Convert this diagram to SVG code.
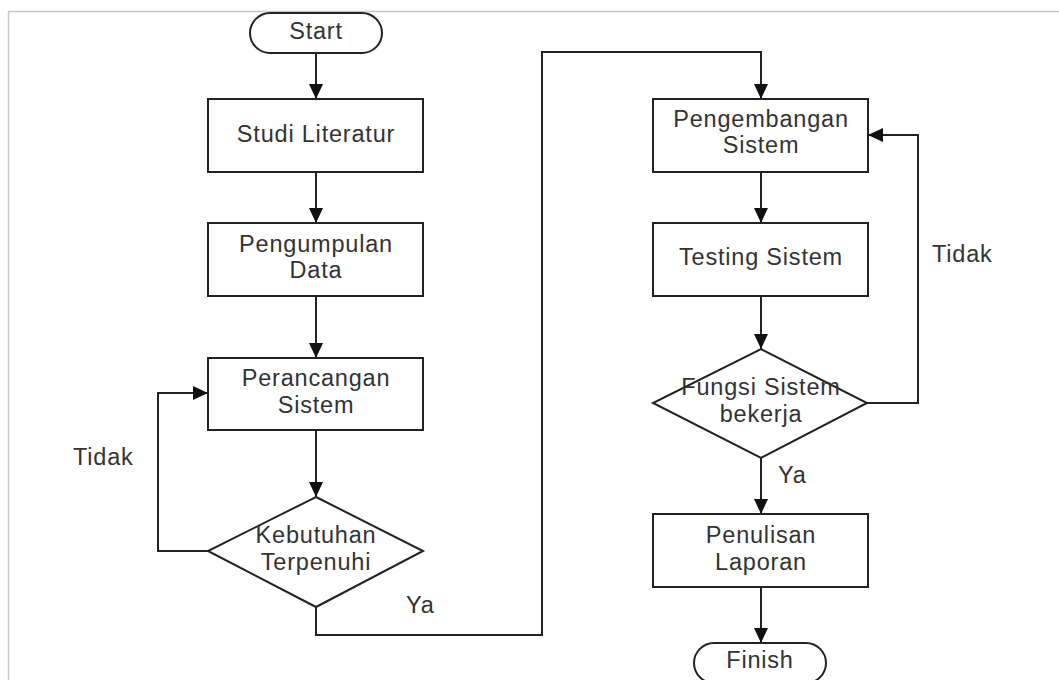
<svg xmlns="http://www.w3.org/2000/svg" width="1059" height="680" viewBox="0 0 1059 680">
<style>
.shape{fill:#fff;stroke:#222;stroke-width:2}
.line{fill:none;stroke:#222;stroke-width:2}
text{font-family:"Liberation Sans",Arial,sans-serif;font-size:23.5px;letter-spacing:0.8px;fill:#333;text-anchor:middle}
.lbl{text-anchor:start}
</style>
<defs>
<marker id="ah" markerWidth="15" markerHeight="14" refX="15" refY="7" orient="auto" markerUnits="userSpaceOnUse">
<path d="M0,0 L15,7 L0,14 Z" fill="#111"/>
</marker>
</defs>
<rect x="0" y="0" width="1059" height="680" fill="#fff"/>
<path d="M8.5,680 V11.5 H1059" fill="none" stroke="#c8c8c8" stroke-width="1.5"/>
<g id="connectors">
<path class="line" d="M316,53 V99" marker-end="url(#ah)"/>
<path class="line" d="M316,172 V223" marker-end="url(#ah)"/>
<path class="line" d="M316,296 V358" marker-end="url(#ah)"/>
<path class="line" d="M316,430 V497" marker-end="url(#ah)"/>
<path class="line" d="M208,551 H158 V393 H208" marker-end="url(#ah)"/>
<path class="line" d="M316,607 V635 H542 V52 H761 V99" marker-end="url(#ah)"/>
<path class="line" d="M761,172 V223" marker-end="url(#ah)"/>
<path class="line" d="M761,296 V349" marker-end="url(#ah)"/>
<path class="line" d="M867,403 H918 V135 H868" marker-end="url(#ah)"/>
<path class="line" d="M761,458 V514" marker-end="url(#ah)"/>
<path class="line" d="M761,587 V643" marker-end="url(#ah)"/>
<text class="lbl" x="73" y="465">Tidak</text>
<text class="lbl" x="406" y="613">Ya</text>
<text class="lbl" x="932" y="262">Tidak</text>
<text class="lbl" x="778" y="483">Ya</text>
</g>
<g id="start">
<rect class="shape" x="250" y="13" width="132" height="40" rx="20"/>
<text x="316" y="39">Start</text>
</g>
<g id="studi">
<rect class="shape" x="208" y="99" width="215" height="73"/>
<text x="316" y="142">Studi Literatur</text>
</g>
<g id="pengumpulan">
<rect class="shape" x="208" y="223" width="215" height="73"/>
<text x="316" y="252">Pengumpulan</text>
<text x="316" y="278">Data</text>
</g>
<g id="perancangan">
<rect class="shape" x="208" y="358" width="215" height="72"/>
<text x="316" y="386">Perancangan</text>
<text x="316" y="413">Sistem</text>
</g>
<g id="kebutuhan">
<polygon class="shape" points="316,497 423,551 316,607 208,551"/>
<text x="316" y="543">Kebutuhan</text>
<text x="316" y="570">Terpenuhi</text>
</g>
<g id="pengembangan">
<rect class="shape" x="653" y="99" width="215" height="73"/>
<text x="761" y="127">Pengembangan</text>
<text x="761" y="153">Sistem</text>
</g>
<g id="testing">
<rect class="shape" x="653" y="223" width="215" height="73"/>
<text x="761" y="265">Testing Sistem</text>
</g>
<g id="fungsi">
<polygon class="shape" points="761,349 867,403 761,458 653,403"/>
<text x="761" y="395">Fungsi Sistem</text>
<text x="761" y="422">bekerja</text>
</g>
<g id="penulisan">
<rect class="shape" x="653" y="514" width="215" height="73"/>
<text x="761" y="543">Penulisan</text>
<text x="761" y="570">Laporan</text>
</g>
<g id="finish">
<rect class="shape" x="694" y="643" width="132" height="40" rx="20"/>
<text x="760" y="668">Finish</text>
</g>
</svg>
